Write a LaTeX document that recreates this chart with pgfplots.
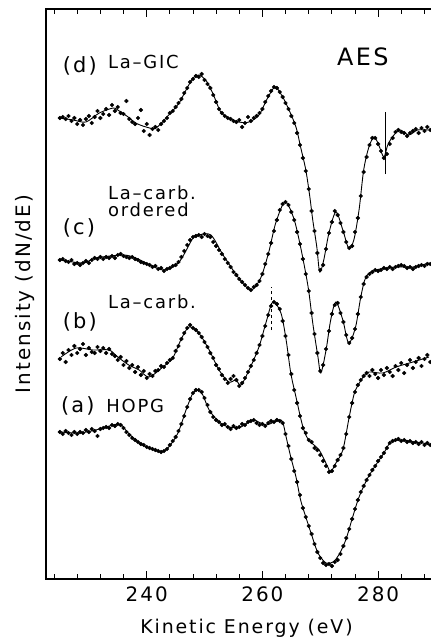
\documentclass[border=0pt]{standalone}
\usepackage{fontspec}
\setmainfont{DejaVu Sans}[LetterSpace=10]
\usepackage{pgfplots}
\usepackage{pgfplotstable}
\pgfplotsset{compat=1.18}

\tikzset{
    lbl/.style={font=\fontsize{18}{20}\selectfont, inner sep=0pt},
    plbl/.style={font=\fontsize{21}{24}\selectfont, inner sep=0pt},
    dots/.style={only marks, mark=*, mark size=1.9bp, black},
    fit/.style={black, line width=0.9pt, smooth},
}

% measured dots, y in arbitrary units (offset per spectrum)
\pgfplotstableread{
x y
225.0 461
225.5 462
226.0 460
226.5 463
227.0 458
227.5 461
228.0 455
228.5 459
229.0 454
229.5 460
230.0 463
230.5 456
231.0 462
231.5 468
232.0 461
232.5 465
233.0 470
233.5 464
234.0 474
234.5 468
235.0 472
235.5 466
236.0 465
236.5 478
237.0 460
237.5 457
238.0 455
238.5 461
239.0 469
239.5 448
240.0 455
240.5 444
241.0 450
241.5 452
242.0 449
242.5 455
243.0 458
243.5 461
244.0 466
244.5 468
245.0 472
245.5 476
246.0 480
246.5 486
247.0 491
247.5 497
248.0 500
248.5 503
249.0 502
249.5 505
250.0 499
250.5 495
251.0 491
251.5 484
252.0 477
252.5 470
253.0 466
253.5 463
254.0 461
254.5 460
255.0 458
255.5 457
256.0 459
256.5 452
257.0 456
257.5 462
258.0 458
258.5 461
259.0 463
259.5 466
260.0 470
260.5 477
261.0 483
261.5 488
262.0 492
262.5 491
263.0 487
263.5 482
264.0 476
264.5 470
265.0 463
265.5 456
266.0 446
266.5 434
267.0 421
267.5 408
268.0 390
268.5 368
269.0 348
269.5 326
270.0 309
270.5 314
271.0 330
271.5 346
272.0 357
272.5 368
273.0 364
273.5 356
274.0 347
274.5 337
275.0 331
275.5 333
276.0 347
276.5 361
277.0 383
277.5 407
278.0 422
278.5 434
279.0 441
279.5 441
280.0 435
280.5 428
281.0 421
281.5 425
282.0 435
282.5 441
283.0 447
283.5 449
284.0 447
284.5 446
285.0 443
285.5 446
286.0 448
286.5 450
287.0 446
287.5 451
288.0 448
288.5 452
289.0 449
}\dotsD

\pgfplotstableread{
x y
225.0 319
225.5 320
226.0 318
226.5 317
227.0 319
227.5 315
228.0 316
228.5 314
229.0 316
229.5 318
230.0 316
230.5 319
231.0 321
231.5 320
232.0 322
232.5 320
233.0 322
233.5 321
234.0 323
234.5 321
235.0 324
235.5 325
236.0 323
236.5 322
237.0 321
237.5 322
238.0 320
238.5 319
239.0 317
239.5 316
240.0 315
240.5 314
241.0 312
241.5 313
242.0 310
242.5 311
243.0 308
243.5 310
244.0 311
244.5 313
245.0 314
245.5 317
246.0 322
246.5 328
247.0 334
247.5 339
248.0 342
248.5 343
249.0 344
249.5 342
250.0 345
250.5 343
251.0 342
251.5 337
252.0 333
252.5 329
253.0 325
253.5 320
254.0 316
254.5 312
255.0 307
255.5 304
256.0 300
256.5 297
257.0 294
257.5 291
258.0 289
258.5 292
259.0 294
259.5 298
260.0 305
260.5 315
261.0 325
261.5 336
262.0 348
262.5 359
263.0 369
263.5 375
264.0 377
264.5 374
265.0 367
265.5 359
266.0 347
266.5 335
267.0 320
267.5 305
268.0 288
268.5 266
269.0 245
269.5 226
270.0 208
270.5 214
271.0 230
271.5 248
272.0 265
272.5 274
273.0 276
273.5 266
274.0 257
274.5 244
275.0 236
275.5 241
276.0 250
276.5 265
277.0 282
277.5 295
278.0 302
278.5 305
279.0 307
279.5 309
280.0 308
280.5 309
281.0 311
281.5 310
282.0 312
282.5 310
283.0 312
283.5 313
284.0 314
284.5 313
285.0 311
285.5 312
286.0 310
286.5 312
287.0 313
287.5 314
288.0 313
288.5 315
289.0 315
}\dotsC

\pgfplotstableread{
x y
225.0 220
225.5 226
226.0 217
226.5 229
227.0 224
227.5 233
228.0 226
228.5 230
229.0 235
229.5 224
230.0 231
230.5 227
231.0 226
231.5 232
232.0 228
232.5 231
233.0 226
233.5 230
234.0 225
234.5 223
235.0 219
235.5 222
236.0 214
236.5 218
237.0 211
237.5 214
238.0 207
238.5 212
239.0 204
239.5 208
240.0 201
240.5 205
241.0 203
241.5 208
242.0 209
242.5 213
243.0 212
243.5 216
244.0 219
244.5 221
245.0 228
245.5 233
246.0 240
246.5 246
247.0 251
247.5 254
248.0 251
248.5 249
249.0 246
249.5 242
250.0 237
250.5 232
251.0 226
251.5 221
252.0 214
252.5 210
253.0 204
253.5 200
254.0 196
254.5 200
255.0 203
255.5 199
256.0 193
256.5 196
257.0 201
257.5 207
258.0 213
258.5 219
259.0 226
259.5 234
260.0 243
260.5 253
261.0 264
261.5 273
262.0 277
262.5 275
263.0 270
263.5 258
264.0 243
264.5 224
265.0 205
265.5 189
266.0 176
266.5 163
267.0 151
267.5 146
268.0 139
268.5 137
269.0 131
269.5 129
270.0 124
270.5 118
271.0 113
271.5 107
272.0 108
272.5 113
273.0 119
273.5 124
274.0 131
274.5 145
275.0 162
275.5 176
276.0 187
276.5 194
277.0 199
277.5 203
278.0 206
278.5 203
279.0 209
279.5 205
280.0 201
280.5 209
281.0 204
281.5 211
282.0 207
282.5 203
283.0 213
283.5 209
284.0 216
284.5 206
285.0 214
285.5 219
286.0 211
286.5 217
287.0 221
287.5 213
288.0 220
288.5 224
289.0 217
}\dotsB

\pgfplotstableread{
x y
225.0 147
225.5 145
226.0 148
226.5 146
227.0 144
227.5 147
228.0 145
228.5 147
229.0 146
229.5 149
230.0 147
230.5 150
231.0 148
231.5 143
232.0 150
232.5 151
233.0 152
233.5 151
234.0 154
234.5 153
235.0 155
235.5 154
236.0 151
236.5 147
237.0 144
237.5 141
238.0 139
238.5 137
239.0 135
239.5 134
240.0 132
240.5 131
241.0 130
241.5 129
242.0 128
242.5 127
243.0 128
243.5 130
244.0 134
244.5 138
245.0 142
245.5 148
246.0 155
246.5 163
247.0 172
247.5 180
248.0 186
248.5 189
249.0 189
249.5 187
250.0 181
250.5 174
251.0 167
251.5 162
252.0 159
252.5 157
253.0 154
253.5 155
254.0 152
254.5 150
255.0 153
255.5 151
256.0 152
256.5 155
257.0 154
257.5 157
258.0 158
258.5 159
259.0 156
259.5 154
260.0 155
260.5 153
261.0 156
261.5 158
262.0 157
262.5 159
263.0 158
263.5 156
264.0 145
264.5 133
265.0 120
265.5 108
266.0 97
266.5 84
267.0 71
267.5 62
268.0 53
268.5 45
269.0 35
269.5 27
270.0 21
270.5 16
271.0 14
271.5 15
272.0 13
272.5 17
273.0 19
273.5 25
274.0 33
274.5 41
275.0 50
275.5 60
276.0 70
276.5 79
277.0 87
277.5 93
278.0 99
278.5 104
279.0 109
279.5 113
280.0 118
280.5 122
281.0 126
281.5 131
282.0 136
282.5 138
283.0 139
283.5 140
284.0 138
284.5 139
285.0 137
285.5 138
286.0 136
286.5 137
287.0 135
287.5 137
288.0 134
288.5 136
289.0 134
}\dotsA

\begin{document}
\begin{tikzpicture}
\path[use as bounding box] (-46bp,-61bp) rectangle (385bp,579bp);
\begin{axis}[
    scale only axis,
    width=401bp, height=570bp,
    xmin=222.6, xmax=291.9,
    ymin=0, ymax=570,
    xtick={240,260,280},
    minor xtick={224,228,...,288},
    ytick=\empty,
    tick align=inside,
    major tick length=8bp,
    minor tick length=5bp,
    axis line style={line width=1.1pt},
    every tick/.style={line width=0.9pt, black},
    /pgf/number format/assume math mode=true,
    xticklabel style={font=\fontsize{20}{22}\selectfont, yshift=-4bp},
    xlabel={Kinetic Energy (eV)},
    xlabel style={font=\fontsize{19}{22}\selectfont, at={(rel axis cs:0.5,0)}, anchor=center, yshift=-49bp},
    ylabel={Intensity (dN/dE)},
    ylabel style={font=\fontsize{20}{22}\selectfont, at={(rel axis cs:0,0.5)}, anchor=center, yshift=21bp},
]
% (d) La-GIC
\addplot[fit, no marks] coordinates {(225.0,461) (227.3,459) (229.5,457) (231.8,466) (234.2,471) (235.0,469) (236.8,462) (238.1,456) (239.9,452) (241.6,451) (243.8,464) (245.6,476) (246.8,489) (248.0,501) (249.0,504) (250.2,499) (251.4,486) (252.8,467) (254.2,461) (255.9,457) (257.7,457) (259.4,464) (260.9,481) (262.2,492) (263.5,482) (264.6,469) (265.8,452) (266.6,432) (267.5,409) (268.2,382) (268.7,359) (269.4,332) (269.9,307) (270.6,319) (271.5,346) (272.7,367) (273.9,349) (274.9,331) (275.8,339) (276.7,369) (277.5,409) (278.4,432) (279.3,442) (280.1,434) (281.0,422) (281.8,436) (283.6,449) (285.3,444) (286.8,449) (288.6,449)};
\addplot[dots] table {\dotsD};
% (c) La-carb. ordered
\addplot[fit, no marks] coordinates {(225.2,319) (229.0,316) (231.2,321) (235.9,324) (238.1,321) (240.6,314) (243.0,309) (245.6,317) (248.0,341) (249.0,344) (251.1,344) (253.2,324) (255.9,301) (258.0,289) (259.7,301) (261.1,327) (262.3,356) (263.9,377) (265.4,361) (266.6,332) (267.9,292) (268.7,256) (269.6,222) (270.1,206) (271.0,229) (271.8,259) (272.7,277) (273.9,259) (274.9,236) (276.1,252) (277.0,282) (277.9,302) (279.6,309) (283.1,312) (286.0,312) (288.8,316)};
\addplot[dots] table {\dotsC};
% (b) La-carb.
\addplot[fit, no marks] coordinates {(225.2,222) (227.8,231) (230.7,229) (233.5,229) (235.0,222) (236.9,214) (238.7,209) (240.4,202) (242.8,212) (244.5,221) (245.9,239) (247.3,252) (249.0,246) (250.8,229) (252.5,209) (254.2,197) (255.4,199) (256.3,194) (257.7,209) (259.4,232) (260.6,256) (261.8,277) (263.2,266) (264.1,239) (264.9,206) (265.8,182) (267.0,152) (268.0,139) (269.8,129) (271.3,112) (271.8,107) (272.7,116) (273.9,129) (274.9,159) (275.6,179) (276.1,189) (277.4,202) (278.4,207) (280.8,206) (283.1,212) (286.0,217) (288.8,222)};
\addplot[dots] table {\dotsB};
% (a) HOPG
\addplot[fit, no marks] coordinates {(225.2,147) (228.3,146) (231.2,149) (234.2,154) (235.6,154) (236.8,146) (238.7,136) (240.4,131) (242.5,127) (243.8,132) (245.4,146) (246.8,169) (248.0,186) (248.9,189) (249.7,184) (250.8,169) (252.5,157) (254.2,152) (256.3,152) (258.4,159) (260.6,154) (262.8,159) (263.5,157) (264.1,142) (264.9,122) (265.8,102) (266.6,79) (267.5,62) (268.4,46) (269.6,26) (271.0,16) (272.2,17) (273.2,24) (274.4,39) (275.6,62) (276.7,82) (278.2,101) (279.6,114) (281.0,126) (282.2,137) (284.3,139) (286.0,137) (287.7,136) (289.1,134)};
\addplot[dots] table {\dotsA};
% markers
\addplot[black, line width=0.6pt, no marks] coordinates {(281.3,405) (281.3,467)};
\addplot[black, line width=0.6pt, dashed, no marks] coordinates {(261.6,249) (261.6,292)};
% labels
\node[plbl, anchor=base west] at (axis cs:225.5,507) {(d)};
\node[lbl, anchor=base west] at (axis cs:233.3,511) {La–GIC};
\node[font=\fontsize{24}{26}\selectfont, inner sep=0pt, anchor=base west] at (axis cs:272.86,514) {AES};
\node[lbl, anchor=base west] at (axis cs:233.3,380) {La–carb.};
\node[lbl, anchor=base west] at (axis cs:233.3,363) {ordered};
\node[plbl, anchor=base west] at (axis cs:225.5,345) {(c)};
\node[lbl, anchor=base west] at (axis cs:233.3,271) {La–carb.};
\node[plbl, anchor=base west] at (axis cs:225.5,251) {(b)};
\node[plbl, anchor=base west] at (axis cs:225.2,167) {(a)};
\node[lbl, anchor=base west] at (axis cs:233.0,167) {HOPG};
\end{axis}
\end{tikzpicture}
\end{document}
